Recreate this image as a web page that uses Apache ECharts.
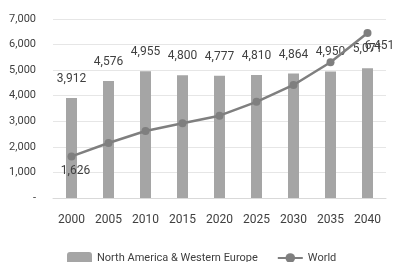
<!DOCTYPE html>
<html><head><meta charset="utf-8">
<script src="https://cdn.jsdelivr.net/npm/echarts@6/dist/echarts.min.js"></script>
<style>html,body{margin:0;padding:0;background:#fff}#c{width:393px;height:262px}</style>
</head><body><div id="c"></div>
<script>
const years = ['2000','2005','2010','2015','2020','2025','2030','2035','2040'];
const naWeValues = [3912, 4576, 4955, 4800, 4777, 4810, 4864, 4950, 5071];
const worldValues = [1626, 2150, 2620, 2920, 3220, 3760, 4420, 5310, 6451];
const yTicks = [0, 1000, 2000, 3000, 4000, 5000, 6000, 7000];

const FONT = 'Roboto, "Liberation Sans", sans-serif';
const fmt = v => v === 0 ? '-' : v.toLocaleString('en-US');
const chart = echarts.init(document.getElementById('c'));
const lastIdx = worldValues.length - 1;
chart.setOption({
  animation: false,
  textStyle: { fontFamily: FONT },
  grid: { left: 53, right: 7, top: 19, bottom: 64, containLabel: false },
  legend: {
    top: 252, left: 67, itemWidth: 25, itemHeight: 12, itemGap: 19, padding: 0,
    textStyle: { fontFamily: FONT, fontSize: 11, color: '#404040' },
    data: ['North America & Western Europe', { name: 'World', itemStyle: { borderWidth: 0 } }]
  },
  xAxis: {
    type: 'category', data: years,
    axisLine: { lineStyle: { color: '#d9d9d9' } },
    axisTick: { show: false },
    axisLabel: { interval: 0, fontFamily: FONT, fontSize: 12, color: '#404040', margin: 16 }
  },
  yAxis: {
    type: 'value', min: yTicks[0], max: yTicks[yTicks.length - 1], interval: 1000,
    axisLine: { show: false }, axisTick: { show: false },
    splitLine: { lineStyle: { color: '#e6e6e6' } },
    axisLabel: { fontFamily: FONT, fontSize: 11, color: '#404040', margin: 17, formatter: fmt }
  },
  series: [
    {
      name: 'North America & Western Europe', type: 'bar', data: naWeValues,
      barWidth: 11, itemStyle: { color: '#a5a5a5' },
      label: { show: true, position: 'top', distance: 13, fontFamily: FONT, fontSize: 12, color: '#404040', formatter: p => fmt(p.value) }
    },
    {
      name: 'World', type: 'line', data: worldValues.map((v, i) => {
        if (i === 0) return { value: v, label: { show: true, position: 'bottom', distance: 5, offset: [4, 0] } };
        if (i === lastIdx) return { value: v, label: { show: true, position: 'bottom', distance: 3, offset: [12, 0] } };
        return v;
      }),
      symbol: 'circle', symbolSize: 8,
      lineStyle: { color: '#7f7f7f', width: 2.5 },
      itemStyle: { color: '#7f7f7f' },
      label: { show: false, fontFamily: FONT, fontSize: 12, color: '#404040', formatter: p => fmt(p.value) },
      z: 3
    }
  ]
});
</script></body></html>
